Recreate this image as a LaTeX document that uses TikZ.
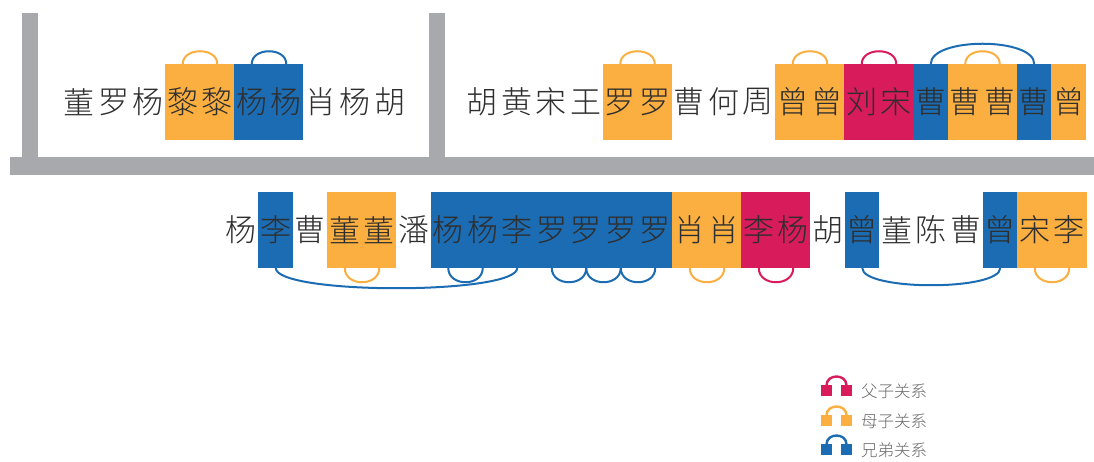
\documentclass[tikz,border=0pt]{standalone}
\usepackage{fontspec}
\newfontfamily\cjk{Noto Sans CJK SC}[UprightFont={* Light}]
\definecolor{facol}{HTML}{D81B5B}
\definecolor{mocol}{HTML}{FAAF40}
\definecolor{brcol}{HTML}{1B6CB3}
\definecolor{barcol}{HTML}{A7A9AC}
\definecolor{txtcol}{HTML}{2E2E2E}
\begin{document}
\begin{tikzpicture}[x=1pt,y=1pt,
    ch/.style={inner sep=0pt,outer sep=0pt,minimum width=35pt,minimum height=76pt,
      font=\cjk\fontsize{31}{31}\selectfont,text=txtcol},
    handle/.style={line width=2pt},
    legsq/.style={inner sep=0pt,outer sep=0pt,minimum size=11pt},
    legtext/.style={anchor=west,inner sep=0pt,font=\cjk\fontsize{16.5}{16.5}\selectfont,text=black!60}]
    \useasboundingbox (0,0) rectangle (1094,462);
    \fill[barcol] (22,305) rectangle (38,449);
    \fill[barcol] (429,305) rectangle (445,449);
    \fill[barcol] (10,287) rectangle (1094,305);
    \foreach \c/\f [count=\i] in {董/white,罗/white,杨/white,黎/mocol,黎/mocol,杨/brcol,杨/brcol,肖/white,杨/white,胡/white}
        \node[ch,fill=\f] (a\i) at ({44.75+34.5*\i},360) {\c};
    \foreach \c/\f [count=\i] in {胡/white,黄/white,宋/white,王/white,罗/mocol,罗/mocol,曹/white,何/white,周/white,曾/mocol,曾/mocol,刘/facol,宋/facol,曹/brcol,曹/mocol,曹/mocol,曹/brcol,曾/mocol}
        \node[ch,fill=\f] (b\i) at ({447.75+34.5*\i},360) {\c};
    \foreach \c/\f [count=\i] in {杨/white,李/brcol,曹/white,董/mocol,董/mocol,潘/white,杨/brcol,杨/brcol,李/brcol,罗/brcol,罗/brcol,罗/brcol,罗/brcol,肖/mocol,肖/mocol,李/facol,杨/facol,胡/white,曾/brcol,董/white,陈/white,曹/white,曾/brcol,宋/mocol,李/mocol}
        \node[ch,fill=\f] (c\i) at ({206.75+34.5*\i},232) {\c};
    \draw[handle,mocol] (a4.north) to[out=90,in=90,distance=17pt] (a5.north);
    \draw[handle,brcol] (a6.north) to[out=90,in=90,distance=17pt] (a7.north);
    \draw[handle,mocol] (b5.north) to[out=90,in=90,distance=17pt] (b6.north);
    \draw[handle,mocol] (b10.north) to[out=90,in=90,distance=17pt] (b11.north);
    \draw[handle,facol] (b12.north) to[out=90,in=90,distance=17pt] (b13.north);
    \draw[handle,brcol] (b14.north) to[out=90,in=90,distance=27pt] (b17.north);
    \draw[handle,mocol] (b15.north) to[out=90,in=90,distance=17pt] (b16.north);
    \draw[handle,brcol] (c2.south) to[out=-90,in=-90,distance=27pt] (c9.south);
    \draw[handle,mocol] (c4.south) to[out=-90,in=-90,distance=19pt] (c5.south);
    \draw[handle,brcol] (c7.south) to[out=-90,in=-90,distance=19pt] (c8.south);
    \draw[handle,brcol] (c10.south) to[out=-90,in=-90,distance=19pt] (c11.south);
    \draw[handle,brcol] (c11.south) to[out=-90,in=-90,distance=19pt] (c12.south);
    \draw[handle,brcol] (c12.south) to[out=-90,in=-90,distance=19pt] (c13.south);
    \draw[handle,mocol] (c14.south) to[out=-90,in=-90,distance=19pt] (c15.south);
    \draw[handle,facol] (c16.south) to[out=-90,in=-90,distance=19pt] (c17.south);
    \draw[handle,brcol] (c19.south) to[out=-90,in=-90,distance=23pt] (c23.south);
    \draw[handle,mocol] (c24.south) to[out=-90,in=-90,distance=19pt] (c25.south);
    \foreach \col/\txt/\y [count=\i] in {facol/父子关系/71,mocol/母子关系/41,brcol/兄弟关系/12}{
        \node[legsq,fill=\col] (ls\i) at (826.5,\y) {};
        \node[legsq,fill=\col] (rs\i) at (846.5,\y) {};
        \draw[handle,line width=2.4pt,\col] (ls\i.north) to[out=90,in=90,distance=12pt] (rs\i.north);
        \node[legtext] (lt\i) at (861,\y) {\txt};
    }
\end{tikzpicture}
\end{document}
